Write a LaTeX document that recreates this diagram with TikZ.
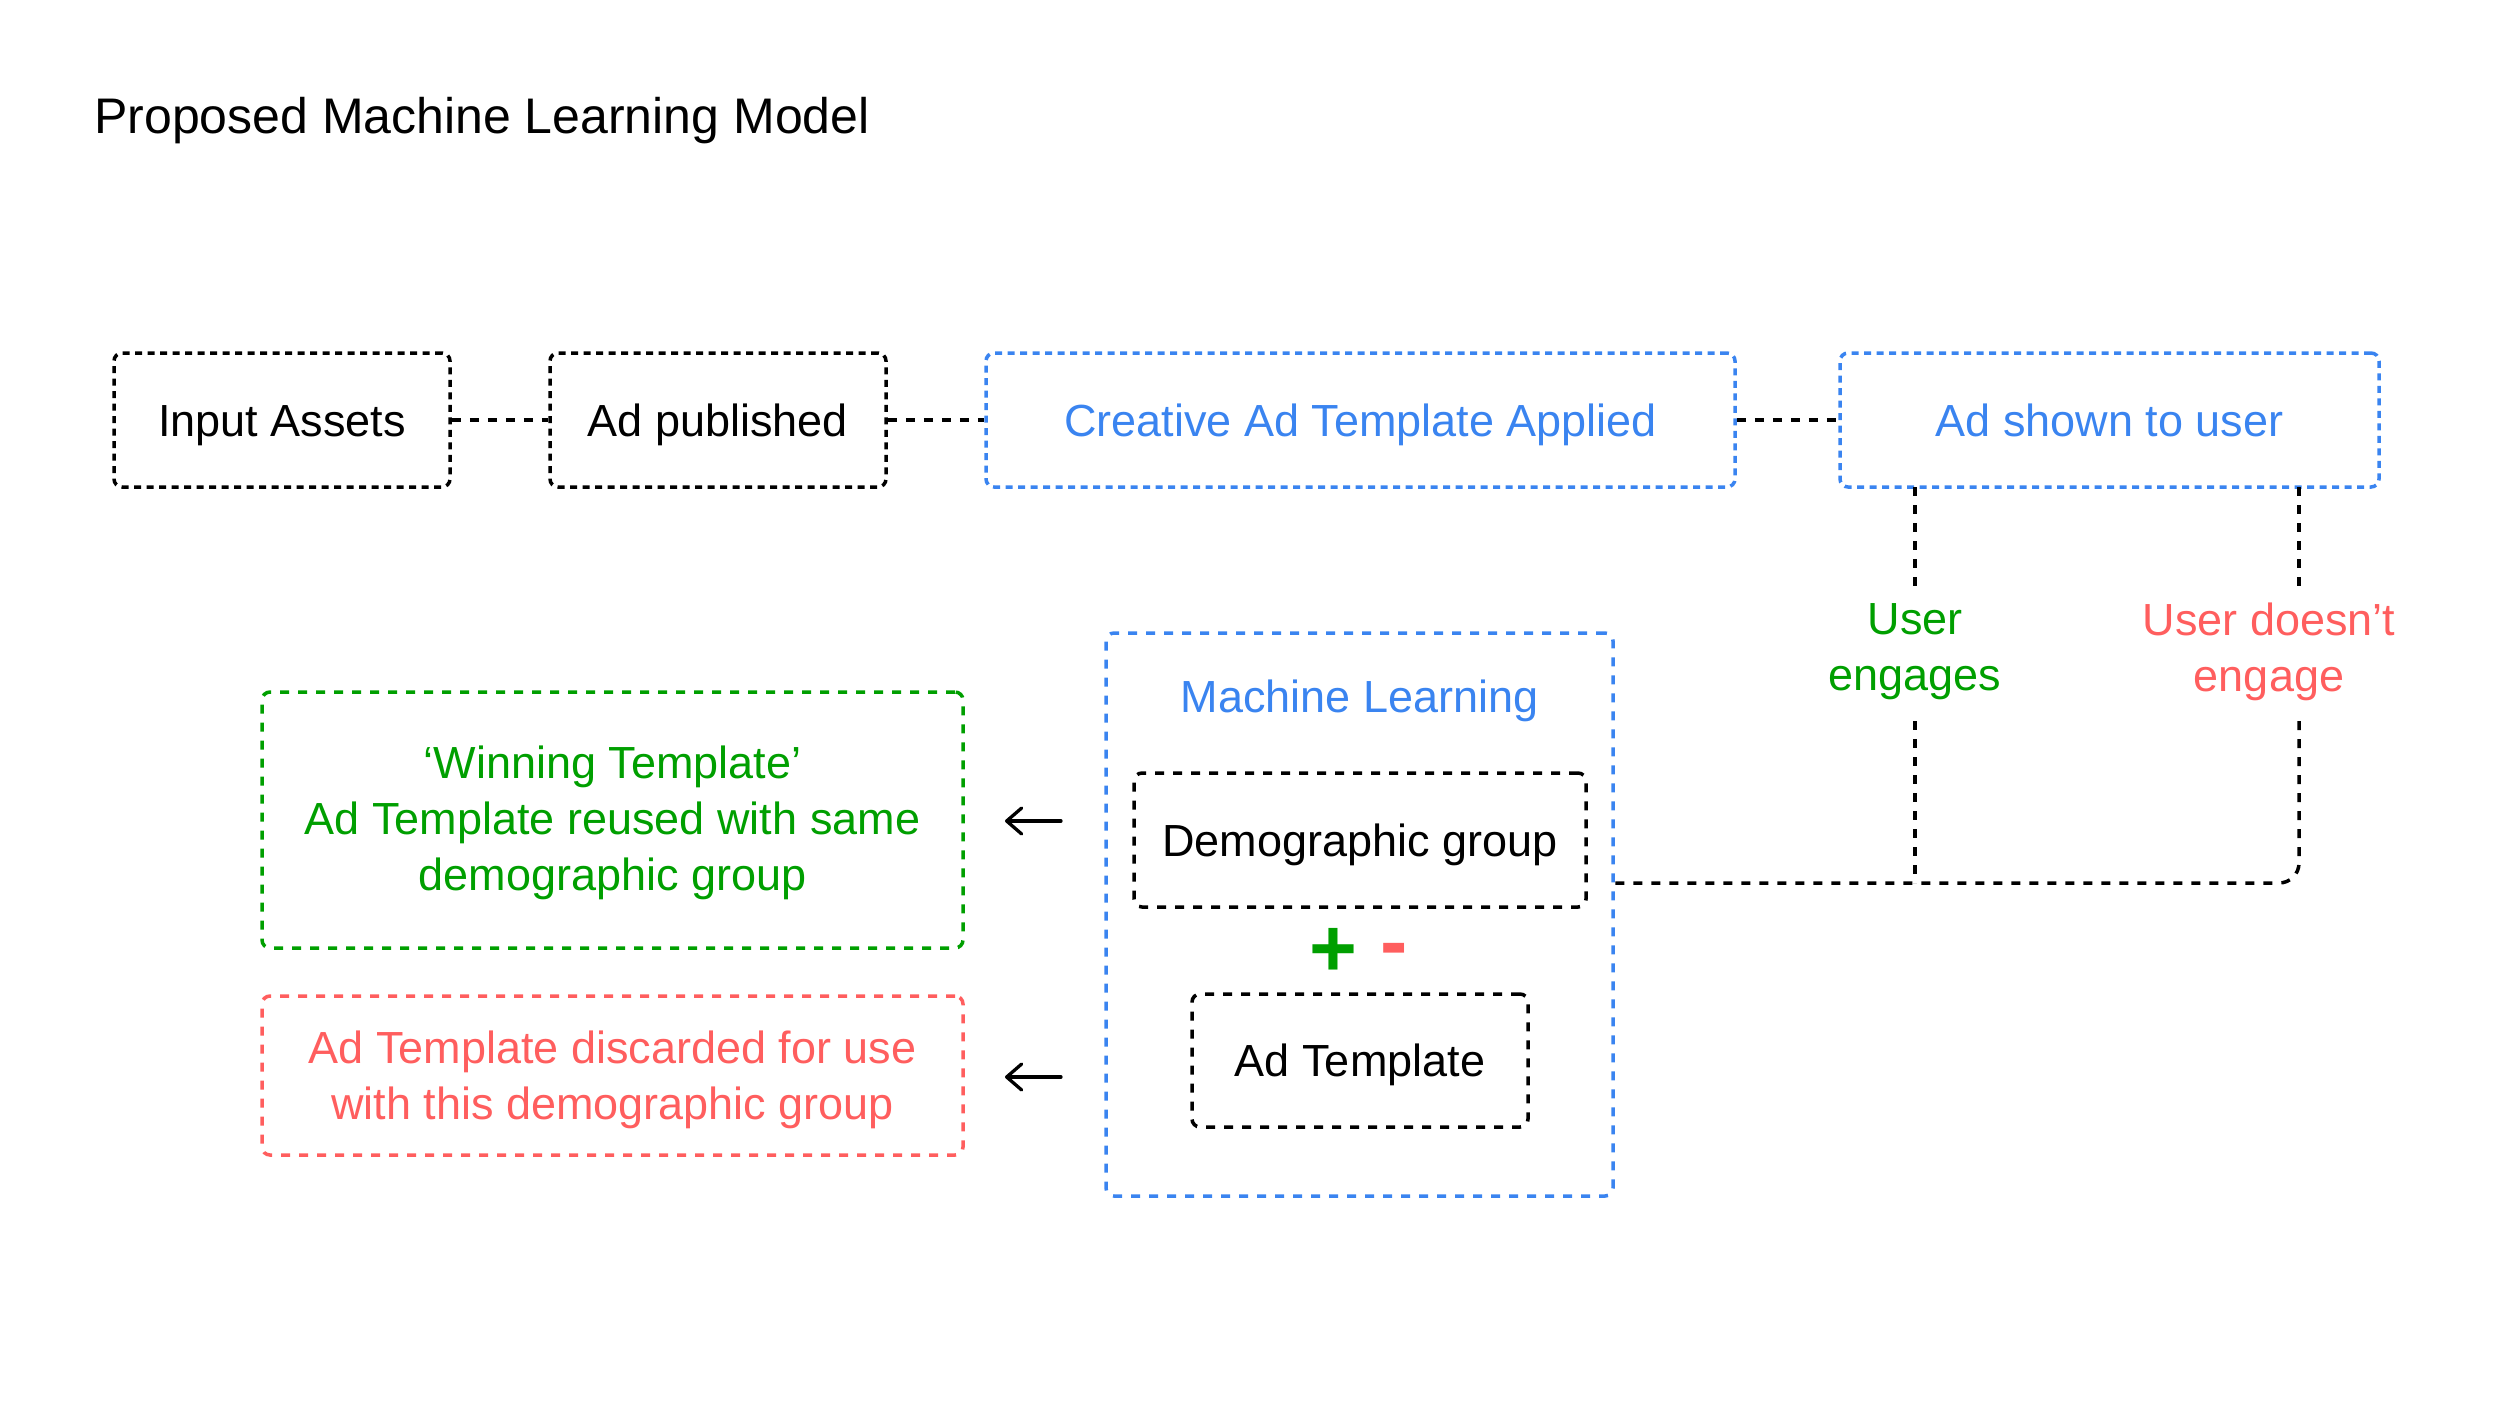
\documentclass[tikz,border=0pt]{standalone}
\usepackage{fontspec}
\setmainfont{Liberation Sans}
\usetikzlibrary{arrows.meta}
\definecolor{mlblue}{HTML}{3A84F0}
\definecolor{mlgreen}{HTML}{009F00}
\definecolor{mlred}{HTML}{FF5E5E}
\begin{document}
\begin{tikzpicture}[x=1pt,y=-1pt,
  box/.style={draw, line width=3.5pt, rounded corners=8pt, inner sep=0pt,
    font=\fontsize{45}{56}\selectfont, align=center},
  oneline/.style={text height=36pt, text depth=4pt},
  finedash/.style={dash pattern=on 7pt off 5.5pt},
  coarsedash/.style={dash pattern=on 9pt off 9pt},
  link/.style={draw, line width=3.5pt, dash pattern=on 9pt off 9pt},
  lbl/.style={font=\fontsize{45}{56}\selectfont, align=center, inner sep=0pt},
  sign/.style={font=\fontsize{82}{82}\bfseries\selectfont, inner sep=0pt, anchor=base},
  resarrow/.style={draw, line width=3.3pt, line cap=round,
    -{Straight Barb[length=15pt,width=26pt,round]}}
]
\useasboundingbox (0,0) rectangle (2500,1406);

% title
\node[anchor=base west, inner sep=0pt, font=\fontsize{50}{60}\selectfont] (title) at (94,133) {Proposed Machine Learning Model};

% top row
\node[box,oneline,finedash,minimum width=336pt,minimum height=134pt] (input) at (282,420) {Input Assets};
\node[box,oneline,finedash,minimum width=336pt,minimum height=134pt] (pub) at (718,420) {Ad published};
\node[box,oneline,finedash,draw=mlblue,text=mlblue,minimum width=749pt,minimum height=134pt] (creative) at (1360.5,420) {Creative Ad Template Applied};
\node[box,oneline,finedash,draw=mlblue,text=mlblue,minimum width=539pt,minimum height=134pt] (shown) at (2109.5,420) {Ad shown to user};

\draw[link] (input) -- (pub);
\draw[link] (pub) -- (creative);
\draw[link] (creative) -- (shown);

% machine learning block
\node[box,coarsedash,draw=mlblue,minimum width=507pt,minimum height=563pt] (ml) at (1359.5,914.5) {};
\node[lbl,text=mlblue,anchor=base] (mltitle) at (1359.5,712) {Machine Learning};
\node[box,oneline,coarsedash,minimum width=452pt,minimum height=134pt] (demo) at (1360,840) {Demographic group};
\node[box,oneline,coarsedash,minimum width=336pt,minimum height=133pt] (tmpl) at (1360,1060.5) {Ad Template};
\node[sign,text=mlgreen] (plus) at (1333,976) {+};
\node[sign,text=mlred] (minus) at (1394,969) {-};

% outcomes
\node[box,coarsedash,draw=mlgreen,minimum width=701pt,minimum height=256pt] (win) at (612.5,820) {};
\node[lbl,text=mlgreen] (wintext) at (612.5,823) {‘Winning Template’\\Ad Template reused with same\\demographic group};
\node[box,coarsedash,draw=mlred,minimum width=701pt,minimum height=159pt] (lose) at (612.5,1075.5) {};
\node[lbl,text=mlred] (losetext) at (612.5,1080) {Ad Template discarded for use\\with this demographic group};

\coordinate (a1s) at (1061,821);
\coordinate (a1e) at (1005,821);
\coordinate (a2s) at (1061,1077);
\coordinate (a2e) at (1005,1077);
\draw[resarrow] (a1s) -- (a1e);
\draw[resarrow] (a2s) -- (a2e);

% engagement branches
\node[lbl,text=mlgreen] (eng) at (1915,652) {User\\engages};
\node[lbl,text=mlred] (noeng) at (2269,652) {User doesn’t\\engage};

\coordinate (e1top) at (1915,487);
\coordinate (e2top) at (2299,487);
\coordinate (e1low) at (1915,883);
\coordinate (e2corner) at (2299,883);
\draw[link] (e1top) -- (1915,591);
\draw[link] (e2top) -- (2299,591);
\draw[link] (1915,721) -- (e1low);
\draw[link, rounded corners=20pt] (2299,721) -- (e2corner) -- (ml.east |- e2corner);
\end{tikzpicture}
\end{document}
